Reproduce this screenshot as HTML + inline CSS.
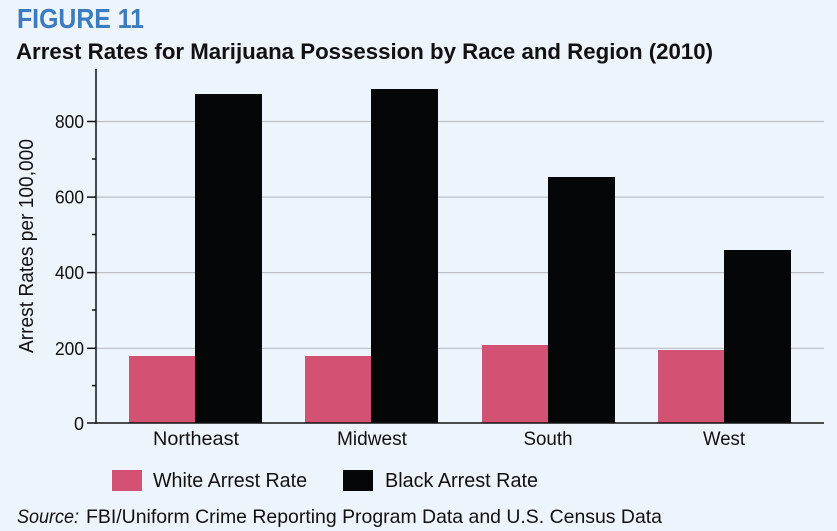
<!DOCTYPE html>
<html>
<head>
<meta charset="utf-8">
<style>
html,body{margin:0;padding:0;background:#eef4fb;}
svg{display:block;}
text{font-family:"Liberation Sans",sans-serif;}
</style>
</head>
<body>
<svg width="837" height="531" viewBox="0 0 837 531" xmlns="http://www.w3.org/2000/svg">
<rect x="0" y="0" width="837" height="531" fill="#eef4fb"/>
<text x="17" y="28" font-size="27.5" font-weight="bold" fill="#3b7cc0" textLength="127" lengthAdjust="spacingAndGlyphs">FIGURE 11</text>
<text x="16" y="59" font-size="22" font-weight="bold" fill="#111" textLength="697" lengthAdjust="spacingAndGlyphs">Arrest Rates for Marijuana Possession by Race and Region (2010)</text>

<!-- gridlines -->
<g stroke="#bcbfc6" stroke-width="1.2">
<line x1="96" y1="348.3" x2="824" y2="348.3"/>
<line x1="96" y1="272.6" x2="824" y2="272.6"/>
<line x1="96" y1="197.1" x2="824" y2="197.1"/>
<line x1="96" y1="121.5" x2="824" y2="121.5"/>
</g>

<!-- bars -->
<g fill="#d35273">
<rect x="129" y="356" width="66" height="67"/>
<rect x="305" y="356" width="66" height="67"/>
<rect x="482" y="345" width="66" height="78"/>
<rect x="658" y="350" width="66" height="73"/>
</g>
<g fill="#050608">
<rect x="195" y="94" width="67" height="329"/>
<rect x="371" y="89" width="67" height="334"/>
<rect x="548" y="177" width="67" height="246"/>
<rect x="724" y="250" width="67" height="173"/>
</g>

<!-- axes -->
<g stroke="#111" stroke-width="1.5">
<line x1="96" y1="69" x2="96" y2="423.7"/>
<line x1="95.3" y1="423" x2="824" y2="423"/>
<line x1="87" y1="423" x2="96" y2="423"/>
<line x1="87" y1="348.3" x2="96" y2="348.3"/>
<line x1="87" y1="272.6" x2="96" y2="272.6"/>
<line x1="87" y1="197.1" x2="96" y2="197.1"/>
<line x1="87" y1="121.5" x2="96" y2="121.5"/>
<line x1="92" y1="385.6" x2="96" y2="385.6"/>
<line x1="92" y1="310" x2="96" y2="310"/>
<line x1="92" y1="234.5" x2="96" y2="234.5"/>
<line x1="92" y1="159" x2="96" y2="159"/>
</g>

<!-- tick labels -->
<g font-size="18" fill="#111" text-anchor="end">
<text x="84" y="430">0</text>
<text x="84" y="355" textLength="29" lengthAdjust="spacingAndGlyphs">200</text>
<text x="84" y="279" textLength="29" lengthAdjust="spacingAndGlyphs">400</text>
<text x="84" y="203.6" textLength="29" lengthAdjust="spacingAndGlyphs">600</text>
<text x="84" y="128" textLength="29" lengthAdjust="spacingAndGlyphs">800</text>
</g>

<text transform="translate(33,246) rotate(-90)" font-size="20" fill="#111" text-anchor="middle" textLength="214" lengthAdjust="spacingAndGlyphs">Arrest Rates per 100,000</text>

<!-- category labels -->
<g font-size="19.5" fill="#111">
<text x="153" y="445" textLength="86" lengthAdjust="spacingAndGlyphs">Northeast</text>
<text x="337" y="445" textLength="70" lengthAdjust="spacingAndGlyphs">Midwest</text>
<text x="523.5" y="445" textLength="49" lengthAdjust="spacingAndGlyphs">South</text>
<text x="703" y="445" textLength="42" lengthAdjust="spacingAndGlyphs">West</text>
</g>

<!-- legend -->
<rect x="112" y="470" width="30" height="21" fill="#d35273"/>
<rect x="343" y="470" width="30" height="21" fill="#050608"/>
<g font-size="20" fill="#111">
<text x="153" y="487" textLength="154" lengthAdjust="spacingAndGlyphs">White Arrest Rate</text>
<text x="385" y="487" textLength="153" lengthAdjust="spacingAndGlyphs">Black Arrest Rate</text>
</g>

<!-- source -->
<g font-size="19.5" fill="#111">
<text x="17" y="523" font-style="italic" textLength="62" lengthAdjust="spacingAndGlyphs">Source:</text>
<text x="86" y="523" textLength="576" lengthAdjust="spacingAndGlyphs">FBI/Uniform Crime Reporting Program Data and U.S. Census Data</text>
</g>
</svg>
</body>
</html>
